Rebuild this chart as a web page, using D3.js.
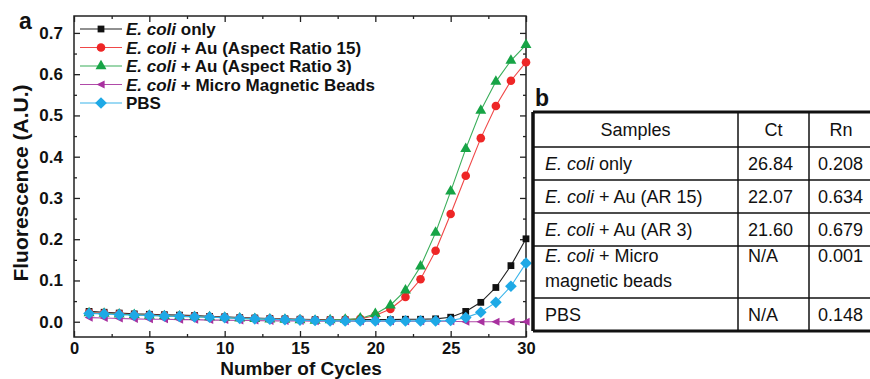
<!DOCTYPE html>
<html><head><meta charset="utf-8">
<script src="https://cdn.jsdelivr.net/npm/d3@7"></script>
<style>
body{margin:0;background:#fff;}
svg{display:block;font-family:"Liberation Sans",Arial,sans-serif;}
</style></head><body>
<svg id="c" width="870" height="379"></svg>
<script>
const cycles = d3.range(1, 31);
const ecoliOnly = [0.025,0.023,0.021,0.019,0.018,0.017,0.016,0.015,0.013,0.012,0.010,0.009,0.008,0.007,0.006,0.005,0.005,0.005,0.005,0.005,0.005,0.006,0.006,0.007,0.011,0.025,0.047,0.083,0.136,0.201];
const auAR15 = [0.022,0.021,0.019,0.017,0.016,0.015,0.014,0.013,0.012,0.011,0.009,0.008,0.007,0.006,0.005,0.004,0.004,0.005,0.007,0.015,0.031,0.060,0.103,0.172,0.261,0.354,0.445,0.523,0.584,0.629];
const auAR3 = [0.021,0.020,0.018,0.017,0.015,0.014,0.013,0.012,0.011,0.010,0.008,0.007,0.006,0.005,0.004,0.003,0.004,0.005,0.008,0.019,0.040,0.076,0.134,0.216,0.316,0.419,0.512,0.582,0.633,0.671];
const magBeads = [0.010,0.009,0.008,0.007,0.006,0.006,0.005,0.005,0.004,0.004,0.003,0.003,0.002,0.002,0.002,0.001,0.001,0.001,0.001,0.001,0.001,0.001,0.001,0.001,0.001,0.000,0.000,0.000,0.000,0.000];
const pbs = [0.020,0.019,0.017,0.016,0.015,0.014,0.013,0.012,0.011,0.010,0.008,0.007,0.006,0.005,0.004,0.003,0.002,0.002,0.002,0.002,0.002,0.002,0.002,0.002,0.003,0.010,0.023,0.047,0.086,0.142];

const legendItalic = ["E. coli","E. coli","E. coli","E. coli",""];
const legendRest = [" only"," + Au (Aspect Ratio 15)"," + Au (Aspect Ratio 3)"," + Micro Magnetic Beads","PBS"];
const xTicks = [0,5,10,15,20,25,30];
const yTicks = [0.0,0.1,0.2,0.3,0.4,0.5,0.6,0.7];

const tableHeader = ["Samples","Ct","Rn"];
const tableItalic = ["E. coli","E. coli","E. coli","E. coli",""];
const tableRest = [[" only"],[" + Au (AR 15)"],[" + Au (AR 3)"],[" + Micro","magnetic beads"],["PBS"]];
const tableCt = ["26.84","22.07","21.60","N/A","N/A"];
const tableRn = ["0.208","0.634","0.679","0.001","0.148"];

const seriesData = [ecoliOnly, auAR15, auAR3, magBeads, pbs];
const colors = ["#111111","#ee2626","#17a446","#a8309f","#1ea9e6"];
const lineColors = ["#222222","#f04848","#3aae5a","#b04aa8","#3ab4ea"];

const svg = d3.select("#c");
const L=74, R=526, T=16, B=337;
const x = d3.scaleLinear().domain([0,30]).range([L,R]);
const y = d3.scaleLinear().domain([-0.037,0.741]).range([B,T]);

// symbols
const triLeft = {draw(ctx,size){const s=Math.sqrt(size*1.3);ctx.moveTo(-s*0.55,0);ctx.lineTo(s*0.45,-s*0.5);ctx.lineTo(s*0.45,s*0.5);ctx.closePath();}};
const diamondSq = {draw(ctx,size){const s=Math.sqrt(size)*0.72;ctx.moveTo(0,-s);ctx.lineTo(s,0);ctx.lineTo(0,s);ctx.lineTo(-s,0);ctx.closePath();}};
const symbols = [
  d3.symbol().type(d3.symbolSquare).size(46),
  d3.symbol().type(d3.symbolCircle).size(58),
  d3.symbol().type(d3.symbolTriangle).size(52),
  d3.symbol().type(triLeft).size(50),
  d3.symbol().type(diamondSq).size(66)
];

// axes
function styleAxis(g){g.select(".domain").remove();g.selectAll("line").attr("stroke","#222").attr("stroke-width",1.3);}
svg.append("g").attr("transform",`translate(0,${B})`)
  .call(d3.axisBottom(x).tickValues(xTicks).tickFormat(d3.format("d")).tickSize(-6).tickPadding(5))
  .call(styleAxis).call(g=>g.selectAll("text").attr("font-size",16.5).attr("font-weight","bold").attr("fill","#111").attr("font-family","Liberation Sans, Arial"));
svg.append("g").attr("transform",`translate(0,${B})`)
  .call(d3.axisBottom(x).tickValues(d3.range(2.5,30,5)).tickFormat("").tickSize(-3)).call(styleAxis);
svg.append("g").attr("transform",`translate(0,${T})`)
  .call(d3.axisTop(x).tickValues(xTicks).tickFormat("").tickSize(-6)).call(styleAxis);
svg.append("g").attr("transform",`translate(0,${T})`)
  .call(d3.axisTop(x).tickValues(d3.range(2.5,30,5)).tickFormat("").tickSize(-3)).call(styleAxis);
svg.append("g").attr("transform",`translate(${L},0)`)
  .call(d3.axisLeft(y).tickValues(yTicks).tickFormat(d3.format(".1f")).tickSize(-6).tickPadding(11))
  .call(styleAxis).call(g=>g.selectAll("text").attr("font-size",17).attr("font-weight","bold").attr("fill","#111").attr("font-family","Liberation Sans, Arial"));
svg.append("g").attr("transform",`translate(${L},0)`)
  .call(d3.axisLeft(y).tickValues(d3.range(0.05,0.7,0.1)).tickFormat("").tickSize(-3)).call(styleAxis);
svg.append("g").attr("transform",`translate(${R},0)`)
  .call(d3.axisRight(y).tickValues(yTicks).tickFormat("").tickSize(-6)).call(styleAxis);
svg.append("g").attr("transform",`translate(${R},0)`)
  .call(d3.axisRight(y).tickValues(d3.range(0.05,0.7,0.1)).tickFormat("").tickSize(-3)).call(styleAxis);

svg.append("rect").attr("x",L).attr("y",T).attr("width",R-L).attr("height",B-T)
  .attr("fill","none").attr("stroke","#222").attr("stroke-width",1.5);

// series
const line = d3.line().x((d,i)=>x(cycles[i])).y(d=>y(d));
seriesData.forEach((s,k)=>{
  svg.append("path").datum(s).attr("d",line).attr("fill","none")
    .attr("stroke",lineColors[k]).attr("stroke-width",1.1);
});
seriesData.forEach((s,k)=>{
  svg.append("g").selectAll("path").data(s).join("path")
    .attr("transform",(d,i)=>`translate(${x(cycles[i])},${y(d)})`)
    .attr("d",symbols[k]()).attr("fill",colors[k]);
});

// legend
const leg = svg.append("g");
legendRest.forEach((t,i)=>{
  const yy = 29 + i*18.5;
  leg.append("line").attr("x1",80).attr("x2",122).attr("y1",yy).attr("y2",yy)
    .attr("stroke",lineColors[i]).attr("stroke-width",1.1);
  leg.append("path").attr("transform",`translate(101,${yy})`).attr("d",symbols[i]()).attr("fill",colors[i]);
  const tx = leg.append("text").attr("x",126).attr("y",yy+6).attr("font-size",17).attr("font-weight","bold").attr("fill","#111");
  if(legendItalic[i]) tx.append("tspan").attr("font-style","italic").text(legendItalic[i]);
  tx.append("tspan").attr("xml:space","preserve").text(t);
});

// panel labels and axis titles
svg.append("text").attr("x",19).attr("y",29).attr("font-size",23).attr("font-weight","900").attr("fill","#111").text("a");
svg.append("text").attr("x",301).attr("y",374.5).attr("text-anchor","middle").attr("font-size",19).attr("font-weight","bold").attr("fill","#111").text("Number of Cycles");
svg.append("text").attr("transform","translate(28,183) rotate(-90)").attr("text-anchor","middle").attr("font-size",21).attr("font-weight","bold").attr("fill","#111").text("Fluorescence (A.U.)");
svg.append("text").attr("x",535).attr("y",106).attr("font-size",23).attr("font-weight","900").attr("fill","#111").text("b");

// table
const tb = svg.append("g");
const colX = [533, 738, 809, 875];
const rowY = [112, 147, 180, 213, 246, 298, 331];
rowY.forEach((ry,i)=>{
  tb.append("line").attr("x1",533).attr("x2",870).attr("y1",ry).attr("y2",ry)
    .attr("stroke","#111").attr("stroke-width",(i===0||i===rowY.length-1)?3:1.5);
});
colX.slice(0,3).forEach((cx,i)=>{
  tb.append("line").attr("x1",cx).attr("x2",cx).attr("y1",112).attr("y2",331)
    .attr("stroke","#111").attr("stroke-width",i===0?3.5:1.5);
});
const tfs=18;
const hdrX = [(colX[0]+colX[1])/2,(colX[1]+colX[2])/2,841];
tableHeader.forEach((h,i)=>{
  tb.append("text").attr("x",hdrX[i]).attr("y",136).attr("text-anchor","middle").attr("font-size",tfs).attr("fill","#111").text(h);
});
const rowBase = [170, 203, 236, 262, 321];
tableRest.forEach((lines,i)=>{
  const t = tb.append("text").attr("x",545).attr("y",rowBase[i]).attr("font-size",tfs).attr("fill","#111");
  if(tableItalic[i]) t.append("tspan").attr("font-style","italic").text(tableItalic[i]);
  t.append("tspan").attr("xml:space","preserve").text(lines[0]);
  if(lines.length>1){
    tb.append("text").attr("x",545).attr("y",rowBase[i]+25).attr("font-size",tfs).attr("fill","#111").text(lines[1]);
  }
  tb.append("text").attr("x",748).attr("y",rowBase[i]).attr("font-size",tfs).attr("fill","#111").text(tableCt[i]);
  tb.append("text").attr("x",818).attr("y",rowBase[i]).attr("font-size",tfs).attr("fill","#111").text(tableRn[i]);
});
</script>
</body></html>
